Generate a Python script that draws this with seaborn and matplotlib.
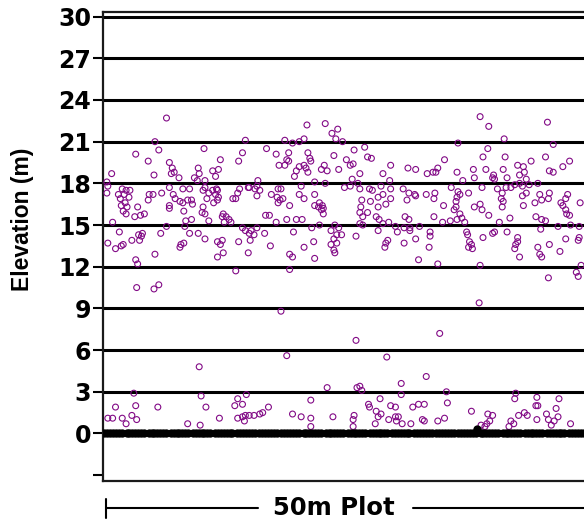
import matplotlib
matplotlib.use("Agg")
import matplotlib.pyplot as plt
from matplotlib.lines import Line2D
import numpy as np
import pandas as pd
import seaborn as sns

# Vegetation returns (distance along plot in m, elevation in m), western third
west_returns = [
    (6.6, 22.7), (5.4, 21.0), (14.8, 21.1), (3.4, 20.1), (5.8, 20.4), (10.5, 20.5), (14.5, 20.2),
    (4.7, 19.6), (6.9, 19.5), (12.2, 19.7), (14.1, 19.6), (0.9, 18.7), (7.2, 19.1), (7.1, 18.7),
    (7.4, 18.8), (7.9, 18.4), (5.3, 18.6), (9.9, 19.1), (10.0, 18.7), (9.5, 18.4), (9.8, 18.2),
    (11.4, 18.9), (12.0, 19.0), (11.7, 18.5), (10.6, 18.2), (0.4, 18.1), (0.5, 17.8), (0.4, 17.3),
    (16.1, 18.2), (16.0, 17.8), (15.2, 17.7), (16.3, 17.5), (16.0, 17.1), (2.0, 17.6), (2.4, 17.5),
    (2.8, 17.5), (1.6, 17.2), (2.2, 17.2), (1.8, 16.9), (2.7, 17.0), (2.3, 16.6), (1.9, 16.4),
    (2.5, 16.3), (2.1, 16.0), (2.4, 15.8), (3.6, 16.3), (3.3, 15.6), (3.9, 15.7), (4.3, 15.8),
    (4.8, 17.2), (5.2, 17.2), (4.7, 16.8), (6.1, 17.3), (6.9, 17.7), (7.3, 17.2), (7.5, 16.9),
    (8.3, 17.6), (9.0, 17.6), (8.8, 16.8), (9.2, 16.8), (8.3, 16.6), (8.0, 16.7), (6.9, 16.4),
    (6.9, 16.2), (8.4, 16.0), (9.3, 16.5), (10.6, 17.7), (10.4, 17.5), (10.8, 16.9), (11.0, 17.3),
    (11.4, 17.5), (11.8, 17.6), (11.9, 17.5), (11.7, 17.2), (11.9, 16.8), (12.0, 17.0), (11.5, 16.6),
    (10.4, 16.3), (10.3, 15.9), (10.6, 15.8), (11.0, 15.3), (12.5, 15.8), (12.4, 15.6), (12.8, 15.6),
    (13.1, 15.4), (12.6, 15.2), (13.3, 15.2), (13.5, 16.9), (13.8, 16.9), (14.0, 17.3), (14.2, 17.6),
    (15.1, 17.7), (15.8, 17.6), (9.2, 15.4), (8.6, 15.3), (8.5, 14.9), (6.6, 14.9), (1.0, 15.2),
    (1.7, 14.5), (0.5, 13.7), (1.3, 13.3), (1.9, 13.5), (2.1, 13.6), (3.0, 13.9), (3.7, 14.3),
    (4.1, 14.4), (4.0, 14.2), (3.8, 13.9), (6.0, 14.4), (9.0, 14.4), (9.9, 14.4), (10.6, 14.0),
    (8.1, 13.6), (8.4, 13.7), (8.0, 13.4), (11.9, 13.8), (12.4, 13.9), (12.2, 13.6), (12.5, 13.0),
    (11.9, 12.7), (14.1, 13.8), (14.5, 14.8), (14.8, 14.6), (15.2, 14.4), (15.4, 14.6), (15.7, 14.3),
    (16.0, 14.8), (15.3, 13.9), (15.1, 13.0), (5.4, 12.9), (3.4, 12.5), (3.6, 12.2), (13.8, 11.7),
]

# Vegetation returns, central third
central_returns = [
    (21.2, 22.2), (23.1, 22.3), (23.8, 21.6), (24.4, 21.9), (24.2, 21.2), (24.9, 21.0), (18.9, 21.1),
    (19.7, 20.9), (20.4, 21.0), (20.9, 21.2), (17.0, 20.5), (18.0, 20.1), (19.3, 20.2), (18.3, 19.3),
    (18.9, 19.3), (19.1, 19.7), (19.3, 19.6), (21.3, 20.2), (21.5, 19.8), (21.6, 19.6), (20.9, 19.3),
    (20.4, 19.2), (21.1, 19.1), (20.1, 18.9), (19.9, 18.5), (21.3, 18.8), (23.0, 19.3), (22.7, 19.0),
    (23.3, 18.9), (24.5, 19.0), (24.0, 20.0), (25.3, 19.7), (25.7, 19.3), (26.1, 20.4), (26.0, 19.4),
    (27.2, 20.6), (27.5, 19.9), (27.9, 19.8), (26.7, 18.7), (29.9, 19.3), (29.1, 18.7), (29.8, 18.2),
    (31.7, 19.1), (32.5, 19.0), (22.0, 18.1), (23.1, 18.0), (20.6, 17.8), (25.1, 17.7), (25.9, 18.3),
    (25.7, 17.8), (26.7, 17.6), (26.5, 18.0), (17.5, 17.2), (18.2, 17.6), (18.5, 17.6), (18.1, 17.0),
    (18.4, 16.8), (18.2, 16.6), (18.7, 16.9), (20.4, 17.2), (20.9, 16.9), (22.0, 17.2), (22.0, 16.4),
    (22.5, 16.6), (22.8, 16.4), (22.9, 16.2), (22.7, 16.1), (22.9, 15.8), (22.4, 16.3), (19.4, 16.4),
    (16.9, 15.7), (17.3, 15.7), (19.1, 15.4), (20.1, 15.4), (20.7, 15.4), (18.0, 15.2), (27.7, 17.6),
    (28.0, 17.5), (28.9, 17.8), (29.9, 17.6), (31.2, 17.6), (31.8, 17.3), (32.4, 17.2), (32.5, 17.1),
    (26.9, 16.8), (27.8, 16.7), (28.6, 17.0), (29.1, 17.2), (29.9, 16.9), (29.4, 16.5), (28.6, 16.3),
    (26.8, 16.3), (26.7, 15.9), (27.0, 15.6), (27.5, 15.9), (28.4, 15.6), (28.7, 15.4), (31.6, 16.8),
    (31.4, 15.6), (31.8, 15.4), (31.3, 14.8), (31.9, 14.8), (26.7, 15.1), (27.0, 15.0), (29.1, 15.1),
    (29.7, 15.2), (30.4, 14.9), (30.6, 14.5), (32.9, 14.9), (31.9, 14.6), (16.8, 14.4), (19.8, 14.5),
    (21.7, 14.8), (22.5, 15.0), (23.7, 14.6), (24.1, 15.0), (24.3, 14.3), (24.8, 14.3), (24.5, 14.8),
    (24.0, 14.0), (24.3, 13.7), (23.7, 13.6), (24.0, 13.2), (24.1, 13.0), (17.4, 13.5), (20.9, 13.4),
    (21.9, 13.8), (26.3, 14.2), (28.6, 14.6), (29.6, 13.9), (29.4, 13.7), (29.3, 13.4), (31.3, 13.7),
    (32.5, 14.0), (32.8, 12.5), (19.4, 12.9), (19.7, 12.7), (22.0, 12.6), (19.4, 11.8),
]

# Vegetation returns, eastern third
east_returns = [
    (39.2, 22.8), (40.1, 22.1), (46.2, 22.4), (41.7, 21.2), (36.9, 20.9), (46.8, 20.8), (40.0, 20.5),
    (39.5, 19.9), (35.5, 19.7), (41.8, 19.9), (44.5, 19.6), (46.0, 19.9), (48.5, 19.6), (47.8, 19.2),
    (33.7, 18.7), (34.3, 18.8), (34.6, 18.8), (34.8, 19.1), (36.8, 18.8), (38.5, 19.0), (39.8, 19.0),
    (40.6, 18.6), (41.6, 19.0), (42.0, 18.4), (43.1, 19.3), (43.7, 19.2), (43.8, 18.8), (43.3, 18.6),
    (44.0, 18.3), (46.4, 18.9), (46.8, 18.8), (40.5, 18.4), (36.2, 17.7), (37.4, 18.2), (38.6, 18.4),
    (39.4, 17.7), (40.7, 18.3), (41.0, 17.6), (41.5, 17.3), (41.9, 17.7), (42.4, 17.7), (42.8, 17.9),
    (43.3, 18.0), (43.6, 17.8), (44.3, 17.9), (45.2, 18.0), (44.0, 17.3), (43.6, 17.1), (33.6, 17.2),
    (34.5, 17.3), (34.4, 16.9), (36.9, 17.4), (37.1, 17.2), (36.8, 17.0), (38.0, 17.3), (41.4, 16.9),
    (41.6, 16.7), (35.4, 16.4), (36.7, 16.7), (36.7, 16.3), (36.5, 16.1), (37.1, 15.8), (38.6, 16.3),
    (39.2, 16.5), (39.4, 16.1), (41.5, 16.3), (43.7, 16.4), (44.9, 16.6), (45.6, 16.8), (46.3, 16.9),
    (46.4, 17.3), (45.4, 17.2), (47.6, 16.6), (48.1, 16.9), (48.3, 17.2), (47.8, 16.4), (48.1, 16.1),
    (48.5, 15.7), (48.2, 15.8), (49.6, 16.6), (34.4, 15.6), (35.3, 15.2), (36.1, 15.3), (36.8, 15.4),
    (37.3, 15.5), (37.6, 15.2), (40.1, 15.7), (41.2, 15.2), (42.3, 15.5), (45.0, 15.6), (45.6, 15.4),
    (46.0, 15.3), (45.5, 14.7), (47.3, 14.9), (48.6, 15.0), (49.5, 14.9), (34.0, 14.5), (34.0, 14.2),
    (33.9, 13.4), (37.8, 14.5), (37.9, 14.3), (38.1, 13.8), (38.3, 13.6), (38.4, 13.3), (38.0, 13.4),
    (39.5, 14.1), (40.5, 14.4), (40.7, 14.5), (42.0, 14.5), (43.1, 14.1), (43.1, 13.8), (42.9, 13.6),
    (42.8, 13.3), (43.3, 12.7), (45.2, 13.4), (45.4, 12.9), (45.6, 12.7), (46.4, 13.6), (47.5, 13.1),
    (48.1, 14.0), (49.5, 14.1), (49.4, 13.9), (34.8, 12.2), (39.2, 12.1), (49.7, 12.1), (49.2, 11.6),
    (49.4, 11.3), (46.3, 11.2),
]

# Understory and mid-canopy returns below 11 m
understory_returns = [
    (3.5, 10.5), (5.3, 10.4), (5.8, 10.7), (10.0, 4.8), (3.2, 2.9), (10.2, 2.7), (1.3, 1.9),
    (3.4, 2.0), (5.7, 1.9), (10.7, 1.9), (0.5, 1.1), (1.0, 1.1), (2.0, 1.1), (2.4, 0.7),
    (3.0, 1.3), (3.5, 1.0), (8.8, 0.7), (10.1, 0.6), (12.1, 1.1), (14.0, 2.5), (14.9, 2.8),
    (13.7, 2.0), (14.5, 2.1), (14.0, 1.1), (14.5, 1.2), (14.8, 1.3), (14.7, 0.9), (15.2, 1.3),
    (15.7, 1.3), (16.3, 1.4), (18.5, 8.8), (26.3, 6.7), (19.1, 5.6), (29.5, 5.5), (23.3, 3.3),
    (26.4, 3.3), (26.7, 3.4), (26.9, 3.1), (31.0, 3.6), (31.0, 2.8), (17.2, 1.9), (16.6, 1.5),
    (21.6, 2.4), (19.7, 1.4), (20.6, 1.2), (21.6, 1.1), (21.6, 0.5), (23.9, 1.2), (26.1, 1.3),
    (26.0, 1.0), (26.0, 0.5), (27.6, 2.1), (27.7, 1.9), (28.8, 2.5), (28.4, 1.6), (28.9, 1.4),
    (28.6, 1.2), (28.3, 0.7), (29.9, 2.0), (30.4, 1.9), (29.7, 1.0), (30.4, 1.2), (30.7, 1.2),
    (30.5, 0.9), (31.1, 0.7), (32.0, 0.7), (32.2, 1.9), (32.8, 2.1), (33.2, 1.0), (39.1, 9.4),
    (35.0, 7.2), (33.6, 4.1), (35.7, 3.0), (35.8, 2.2), (33.4, 2.1), (35.5, 1.1), (34.8, 0.9),
    (33.4, 0.9), (38.3, 1.6), (40.0, 1.4), (40.5, 1.3), (40.2, 0.9), (39.9, 0.7), (39.3, 0.6),
    (39.7, 0.5), (42.9, 2.9), (42.8, 2.5), (42.4, 0.9), (42.2, 0.5), (42.7, 0.7), (43.2, 1.3),
    (43.8, 1.5), (44.1, 1.3), (45.1, 2.6), (45.0, 2.0), (45.2, 2.0), (45.1, 1.0), (46.1, 1.4),
    (46.3, 1.0), (46.6, 0.6), (46.9, 0.9), (47.3, 1.2), (47.1, 1.8), (47.4, 2.5), (48.6, 0.7),
]

# Ground returns along the plot (distance in m)
ground_x = [
    0.15, 0.45, 0.75, 1.05, 1.35, 1.65, 1.95, 2.45, 2.75, 3.05, 3.35, 3.65, 3.95, 4.25,
    4.75, 5.05, 5.35, 5.65, 5.95, 6.25, 6.55, 7.05, 7.35, 7.65, 7.95, 8.25, 8.55, 8.85,
    9.35, 9.65, 9.95, 10.25, 10.55, 10.85, 11.15, 11.65, 11.95, 12.25, 12.55, 12.85, 13.15, 13.45,
    13.95, 14.25, 14.55, 14.85, 15.15, 15.45, 15.75, 16.25, 16.55, 16.85, 17.15, 17.45, 17.75, 18.05,
    18.55, 18.85, 19.15, 19.45, 19.75, 20.05, 20.35, 20.85, 21.15, 21.45, 21.75, 22.05, 22.35, 22.65,
    23.15, 23.45, 23.75, 24.05, 24.35, 24.65, 24.95, 25.45, 25.75, 26.05, 26.35, 26.65, 26.95, 27.25,
    27.75, 28.05, 28.35, 28.65, 28.95, 29.25, 29.55, 30.05, 30.35, 30.65, 30.95, 31.25, 31.55, 31.85,
    32.35, 32.65, 32.95, 33.25, 33.55, 33.85, 34.15, 34.65, 34.95, 35.25, 35.55, 35.85, 36.15, 36.45,
    36.95, 37.25, 37.55, 37.85, 38.15, 38.45, 38.75, 39.25, 39.55, 39.85, 40.15, 40.45, 40.75, 41.05,
    41.55, 41.85, 42.15, 42.45, 42.75, 43.05, 43.35, 43.85, 44.15, 44.45, 44.75, 45.05, 45.35, 45.65,
    46.15, 46.45, 46.75, 47.05, 47.35, 47.65, 47.95, 48.45, 48.75, 49.05, 49.35, 49.65, 49.95,
]
# one ground return sits slightly above the surface
ground_raised_x = [38.9]
ground_raised_z = [0.35]

elevation_ticks = [-3, 0, 3, 6, 9, 12, 15, 18, 21, 24, 27, 30]
elevation_labels = ["", "0", "3", "6", "9", "12", "15", "18", "21", "24", "27", "30"]

purple = "#820a86"

returns = pd.DataFrame(
    west_returns + central_returns + east_returns + understory_returns,
    columns=["distance", "elevation"],
)
ground = pd.DataFrame({
    "distance": ground_x + ground_raised_x,
    "elevation": [0.0] * len(ground_x) + ground_raised_z,
})

sns.set_theme(style="white")
plt.rcParams["font.family"] = ["DejaVu Sans"]
plt.rcParams["text.color"] = "black"
plt.rcParams["axes.labelcolor"] = "black"
plt.rcParams["ytick.color"] = "black"
plt.rcParams["ytick.labelcolor"] = "black"

W, H = 584, 522
fig = plt.figure(figsize=(W / 100, H / 100), dpi=100)
ax = fig.add_axes([103 / W, 1 - 481 / H, 481 / W, 469 / H])

# horizontal reference lines every 3 m
for v in elevation_ticks[1:]:
    ax.axhline(v, color="black", lw=2.2, zorder=1)

sns.scatterplot(
    data=returns, x="distance", y="elevation", ax=ax,
    marker="o", s=18, color=purple, facecolor="none", edgecolor=purple,
    linewidth=0.8, zorder=3, legend=False,
)
sns.scatterplot(
    data=ground, x="distance", y="elevation", ax=ax,
    marker="o", s=36, color="black", edgecolor="black", linewidth=0,
    zorder=4, legend=False,
)

ax.set_xlim(0, 50)
ax.set_ylim(-3.42, 30.33)
ax.set_xticks([])
ax.set_xlabel("")
ax.set_yticks(elevation_ticks)
ax.set_yticklabels(elevation_labels, fontsize=17, fontweight="bold", color="black")
ax.tick_params(axis="y", direction="out", length=7, width=1.5, pad=1.5,
               color="black", left=True)

ax.spines["right"].set_visible(False)
for side in ["left", "top", "bottom"]:
    ax.spines[side].set_color("#1a1a1a")
    ax.spines[side].set_linewidth(1.6)

ax.set_ylabel("Elevation (m)", fontsize=16.5, fontweight="bold", color="black",
              family=["Liberation Sans", "DejaVu Sans"], va="center")
ax.yaxis.set_label_coords(-0.168, 0.559)

# 50 m plot-length bar beneath the axis
ybar = 1 - 508 / H
fig.add_artist(Line2D([106 / W, 258 / W], [ybar, ybar], color="black", lw=1.5,
                      transform=fig.transFigure))
fig.add_artist(Line2D([413 / W, 1.0], [ybar, ybar], color="black", lw=1.5,
                      transform=fig.transFigure))
fig.add_artist(Line2D([106 / W, 106 / W], [1 - 499 / H, 1 - 518 / H], color="black",
                      lw=1.5, transform=fig.transFigure))
fig.text(333.5 / W, ybar, "50m Plot", ha="center", va="center",
         fontsize=17.5, fontweight="bold", color="black")

fig.savefig("out.png", dpi=100)
